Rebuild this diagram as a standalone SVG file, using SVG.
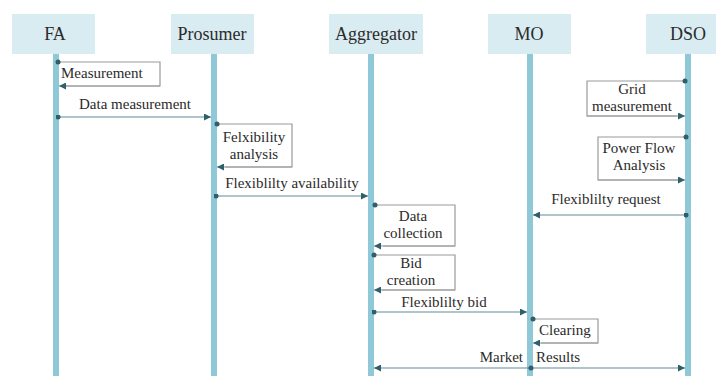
<svg xmlns="http://www.w3.org/2000/svg" width="716" height="376" viewBox="0 0 716 376">
<style>
.hdr{fill:#d9ecf2;stroke:none}
.life{fill:#8fc9d7;stroke:none}
.htxt{font-family:"Liberation Serif",serif;font-size:18px;fill:#2b2b2b;text-anchor:middle}
.lbl{font-family:"Liberation Serif",serif;font-size:15px;fill:#2b2b2b}
.mid{text-anchor:middle}
.msg{fill:none;stroke:#5f8d97;stroke-width:1.2;marker-start:url(#dot);marker-end:url(#arr)}
.self{fill:none;stroke:#9a9a9a;stroke-width:1.2}
.selfend{fill:none;stroke:#5f8d97;stroke-width:1.2}
</style>
<defs>
<marker id="arr" viewBox="0 0 10 10" refX="10" refY="5" markerWidth="7" markerHeight="7" markerUnits="userSpaceOnUse" orient="auto">
<path d="M0,0 L10,5 L0,10 z" fill="#2f5f6b"/>
</marker>
<marker id="dot" viewBox="0 0 10 10" refX="5" refY="5" markerWidth="5" markerHeight="5" markerUnits="userSpaceOnUse" orient="auto">
<circle cx="5" cy="5" r="5" fill="#2f5f6b"/>
</marker>
</defs>
<rect width="716" height="376" fill="#ffffff"/>

<g id="node-FA">
<rect class="hdr" x="12" y="14" width="83" height="40"/>
<rect class="life" x="53" y="54" width="6" height="322"/>
<text class="htxt" x="55" y="40">FA</text>
</g>
<g id="node-Prosumer">
<rect class="hdr" x="171" y="14" width="83" height="40"/>
<rect class="life" x="211" y="54" width="6" height="322"/>
<text class="htxt" x="212" y="40">Prosumer</text>
</g>
<g id="node-Aggregator">
<rect class="hdr" x="329" y="14" width="94" height="40"/>
<rect class="life" x="368" y="54" width="6" height="322"/>
<text class="htxt" x="376" y="40">Aggregator</text>
</g>
<g id="node-MO">
<rect class="hdr" x="488" y="14" width="83" height="40"/>
<rect class="life" x="527" y="54" width="6" height="322"/>
<text class="htxt" x="529" y="40">MO</text>
</g>
<g id="node-DSO">
<rect class="hdr" x="646" y="14" width="83" height="40"/>
<rect class="life" x="685" y="54" width="6" height="322"/>
<text class="htxt" x="688" y="40">DSO</text>
</g>

<g id="connectors">
<!-- FA self: Measurement -->
<path class="self" d="M58,62 H160 V86 H66"/>
<path class="msg" d="M160,86 H59" style="marker-start:none;stroke:#9a9a9a"/>
<circle cx="58" cy="62" r="2.5" fill="#2f5f6b"/>
<text class="lbl" x="61" y="78">Measurement</text>

<!-- Data measurement -->
<path class="msg" d="M58,117 H211"/>
<text class="lbl mid" x="135" y="109">Data measurement</text>

<!-- Prosumer self: Felxibility analysis -->
<path class="self" d="M217,124 H292 V167 H225"/>
<path class="msg" d="M292,167 H217" style="marker-start:none;stroke:#9a9a9a"/>
<circle cx="217" cy="124" r="2.5" fill="#2f5f6b"/>
<text class="lbl mid" x="254" y="142">Felxibility</text>
<text class="lbl mid" x="254" y="159">analysis</text>

<!-- Flexiblilty availability -->
<path class="msg" d="M216,196 H368"/>
<text class="lbl mid" x="292" y="188">Flexiblilty availability</text>

<!-- Aggregator self: Data collection -->
<path class="self" d="M375,205 H455 V246 H383"/>
<path class="msg" d="M455,246 H374" style="marker-start:none;stroke:#9a9a9a"/>
<circle cx="375" cy="205" r="2.5" fill="#2f5f6b"/>
<text class="lbl mid" x="413" y="221">Data</text>
<text class="lbl mid" x="413" y="238">collection</text>

<!-- Aggregator self: Bid creation -->
<path class="self" d="M374,255 H455 V290 H382"/>
<path class="msg" d="M455,290 H374" style="marker-start:none;stroke:#9a9a9a"/>
<circle cx="374" cy="255" r="2.5" fill="#2f5f6b"/>
<text class="lbl mid" x="411" y="268">Bid</text>
<text class="lbl mid" x="411" y="285">creation</text>

<!-- Flexiblilty bid -->
<path class="msg" d="M374,312 H527"/>
<text class="lbl mid" x="444" y="307">Flexiblilty bid</text>

<!-- MO self: Clearing -->
<path class="self" d="M533,319 H598 V343 H541"/>
<path class="msg" d="M598,343 H533" style="marker-start:none;stroke:#9a9a9a"/>
<circle cx="533" cy="319" r="2.5" fill="#2f5f6b"/>
<text class="lbl" x="539" y="335">Clearing</text>

<!-- Market Results -->
<path class="msg" d="M531,368 H374" style="marker-start:none"/>
<path class="msg" d="M531,368 H685" style="marker-start:none"/>
<circle cx="531" cy="368" r="2.5" fill="#2f5f6b"/>
<text class="lbl" x="523" y="362" text-anchor="end">Market</text>
<text class="lbl" x="536" y="362">Results</text>

<!-- DSO self: Grid measurement -->
<path class="self" d="M685,81 H587 V116 H677"/>
<path class="msg" d="M587,116 H685" style="marker-start:none;stroke:#9a9a9a"/>
<circle cx="685" cy="81" r="2.5" fill="#2f5f6b"/>
<text class="lbl mid" x="632" y="94">Grid</text>
<text class="lbl mid" x="632" y="111">measurement</text>

<!-- DSO self: Power Flow Analysis -->
<path class="self" d="M686,137 H598 V180 H678"/>
<path class="msg" d="M598,180 H685" style="marker-start:none;stroke:#9a9a9a"/>
<circle cx="686" cy="137" r="2.5" fill="#2f5f6b"/>
<text class="lbl mid" x="639" y="153">Power Flow</text>
<text class="lbl mid" x="639" y="170">Analysis</text>

<!-- Flexiblilty request -->
<path class="msg" d="M686,215 H533"/>
<text class="lbl mid" x="606" y="204">Flexiblilty request</text>
</g>
</svg>
